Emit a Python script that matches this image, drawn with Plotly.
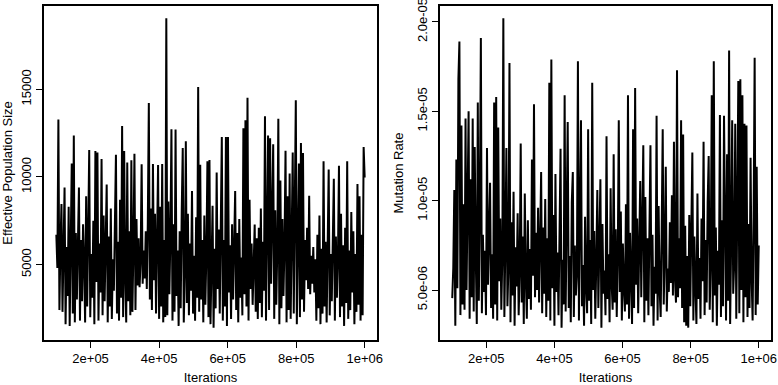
import plotly.graph_objects as go

# MCMC sample grid (thinned iterations)
iterations = list(range(100000, 1000001, 3000))

# Effective population size trace
effective_pop_size = [
    6700, 4800, 13280, 2400, 6100, 8460, 2300, 7400, 9400, 1600,
    6000, 3200, 8300, 1500, 7400, 10770, 2200, 12360, 1700, 6800,
    3000, 7200, 9400, 1800, 6400, 2900, 7300, 5200, 1700, 8900,
    2600, 6900, 11540, 2000, 5600, 3100, 7500, 1600, 11480, 4000,
    11400, 1800, 6200, 3400, 11020, 2100, 7800, 2900, 5400, 9570,
    1700, 6600, 2600, 8200, 1900, 5300, 3500, 7100, 11270, 2200,
    6300, 1800, 8700, 3100, 12900, 2000, 11480, 4300, 1700, 10830,
    2900, 6900, 2100, 10950, 2300, 5900, 11330, 2400, 7600, 3800,
    6500, 3700, 5200, 10720, 3900, 5800, 4200, 6900, 3600, 7400,
    14220, 3000, 8200, 2400, 10740, 4100, 7900, 2200, 8600, 10680,
    1900, 8300, 2600, 10740, 1700, 6400, 2000, 19050, 2100, 8600,
    3300, 6700, 12720, 1800, 7300, 2300, 12700, 3200, 5800, 1500,
    6900, 2500, 8100, 11650, 1700, 4600, 12040, 2800, 7900, 2100,
    6200, 3500, 9200, 2200, 5500, 1800, 7700, 3100, 15130, 2300,
    10700, 3000, 6400, 1700, 7800, 2700, 5600, 10890, 2000, 10970,
    1600, 6800, 8350, 1400, 5900, 2500, 10260, 3600, 7000, 2200,
    8800, 12280, 1800, 6400, 2600, 12280, 1500, 12280, 3400, 6100,
    1900, 7300, 3000, 5600, 9200, 2400, 6800, 1700, 7600, 3100,
    5400, 2100, 12780, 3300, 13240, 2600, 14520, 1800, 8700, 3600,
    6200, 2700, 5800, 7280, 2300, 6500, 1900, 7100, 2800, 8200,
    2000, 6300, 3500, 13470, 1800, 7400, 12360, 2400, 12210, 3900,
    6900, 11860, 1900, 8100, 2700, 5900, 13320, 1600, 9800, 2500,
    7600, 3200, 6100, 11500, 1700, 8900, 2400, 10200, 1900, 6800,
    11400, 2200, 7200, 14370, 1600, 6500, 10770, 2000, 11940, 3000,
    11370, 2300, 6400, 4100, 7100, 3600, 8920, 3300, 5500, 3900,
    6000, 3400, 5300, 1800, 6700, 2500, 7800, 1600, 5900, 2200,
    10890, 2600, 6300, 1700, 8100, 10430, 2100, 5600, 2900, 7400,
    9900, 1800, 6600, 3100, 5400, 10640, 2000, 7900, 2600, 6100,
    1500, 7100, 2800, 10890, 1900, 5800, 2400, 8000, 3400, 6900,
    1600, 5600, 2300, 9590, 2700, 8900, 1800, 6700, 2100, 11710,
    9970,
]

# Mutation rate trace, in units of 1e-6
mutation_rate_e6 = [
    4.55, 6.25, 10.6, 3.0, 12.3, 5.1, 16.8, 18.9, 3.6, 14.2,
    4.2, 9.8, 3.9, 14.6, 5.0, 8.7, 15.0, 3.4, 11.2, 4.6,
    14.6, 3.8, 13.0, 6.9, 3.1, 15.5, 4.4, 9.5, 19.1, 3.7,
    8.1, 4.9, 7.2, 3.6, 12.95, 5.3, 8.4, 11.0, 4.0, 7.0,
    3.4, 15.5, 4.2, 15.8, 3.3, 14.1, 5.5, 9.0, 3.9, 6.8,
    20.2, 3.5, 7.6, 12.95, 4.1, 6.3, 17.7, 3.2, 8.8, 4.7,
    10.5, 3.0, 7.4, 5.2, 9.3, 3.6, 6.1, 13.2, 4.3, 8.0,
    3.1, 10.4, 5.6, 3.4, 8.9, 4.5, 7.3, 3.9, 12.3, 5.8,
    15.4, 4.6, 8.2, 5.0, 9.6, 4.3, 7.7, 11.6, 3.7, 8.5,
    4.8, 10.1, 3.5, 7.9, 4.4, 16.6, 3.3, 17.9, 5.1, 9.2,
    3.0, 11.5, 4.9, 7.1, 3.6, 8.6, 12.9, 2.9, 6.7, 4.2,
    15.9, 3.8, 8.3, 14.4, 4.0, 6.9, 3.2, 9.9, 11.6, 3.5,
    7.5, 4.7, 5.9, 17.8, 3.3, 8.0, 14.5, 4.1, 6.4, 3.0,
    9.1, 5.2, 3.7, 14.0, 4.4, 7.8, 3.1, 16.6, 5.0, 8.3,
    3.4, 6.6, 10.6, 4.0, 7.2, 11.2, 2.9, 8.7, 4.8, 6.1,
    3.6, 13.6, 4.5, 7.0, 3.2, 10.7, 5.4, 3.9, 12.6, 4.3,
    8.4, 3.5, 6.8, 14.5, 4.9, 9.4, 3.3, 7.6, 5.1, 3.8,
    9.8, 4.2, 15.9, 3.4, 8.2, 5.6, 3.1, 14.0, 4.0, 16.3,
    5.3, 9.0, 3.7, 7.4, 11.1, 4.6, 8.8, 13.1, 3.2, 10.2,
    4.4, 7.9, 3.6, 9.5, 13.1, 4.1, 8.1, 3.0, 6.3, 4.8,
    14.75, 3.3, 9.7, 5.0, 3.5, 8.4, 14.0, 4.2, 7.0, 11.9,
    3.8, 6.2, 4.9, 8.8, 5.4, 10.3, 4.7, 13.3, 5.6, 4.3,
    17.3, 4.6, 7.9, 5.1, 14.5, 4.0, 13.7, 3.2, 8.6, 3.0,
    6.9, 2.9, 9.2, 4.1, 7.5, 12.7, 3.3, 8.0, 5.2, 3.1,
    10.4, 4.5, 6.8, 3.4, 9.0, 5.5, 13.3, 3.6, 7.8, 4.3,
    9.9, 12.5, 3.9, 6.6, 15.9, 3.2, 17.8, 4.7, 8.5, 3.0,
    7.2, 5.3, 14.8, 3.5, 8.9, 4.1, 14.75, 5.8, 3.3, 12.6,
    4.4, 18.4, 3.1, 7.7, 14.5, 4.8, 6.5, 14.3, 3.4, 9.6,
    16.7, 3.7, 16.8, 5.0, 15.9, 3.2, 14.3, 4.6, 14.2, 3.5,
    8.7, 4.0, 12.4, 5.7, 3.3, 9.1, 18.0, 3.6, 11.9, 4.2,
    7.5,
]
mutation_rate = [v * 1e-6 for v in mutation_rate_e6]

x_tick_vals = [200000, 400000, 600000, 800000, 1000000]
x_tick_text = ["2e+05", "4e+05", "6e+05", "8e+05", "1e+06"]
ne_tick_vals = [5000, 10000, 15000]
ne_tick_text = ["5000", "10000", "15000"]
mu_tick_vals = [5e-6, 1e-5, 1.5e-5, 2e-5]
mu_tick_text = ["5.0e-06", "1.0e-05", "1.5e-05", "2.0e-05"]


def r_range(vals, frac=0.04):
    lo, hi = min(vals), max(vals)
    d = (hi - lo) * frac
    return [lo - d, hi + d]


FONT = "Liberation Sans, Arial, Helvetica, sans-serif"
LINE = dict(color="black", width=2)

fig = go.Figure()
fig.add_trace(go.Scatter(x=iterations, y=effective_pop_size, mode="lines",
                         line=LINE, xaxis="x", yaxis="y", showlegend=False))
fig.add_trace(go.Scatter(x=iterations, y=mutation_rate, mode="lines",
                         line=LINE, xaxis="x2", yaxis="y2", showlegend=False))

ydom = [45 / 385, 379 / 385]
axis_common = dict(showline=True, linecolor="black", linewidth=1.5, mirror=True,
                   showgrid=False, zeroline=False, ticks="outside", ticklen=6,
                   tickwidth=1, tickcolor="black", automargin=False,
                   ticklabeloverflow="allow",
                   tickfont=dict(family=FONT, size=13, color="black"))

fig.update_layout(
    width=778, height=385,
    margin=dict(l=0, r=0, t=0, b=0),
    paper_bgcolor="white", plot_bgcolor="white",
    font=dict(family=FONT, size=13, color="black"),
    xaxis=dict(domain=[44 / 778, 377 / 778], range=r_range(iterations),
               tickvals=x_tick_vals, ticktext=x_tick_text, anchor="y",
               title=dict(text="Iterations", standoff=12,
                          font=dict(family=FONT, size=13)), **axis_common),
    yaxis=dict(domain=ydom, range=r_range(effective_pop_size),
               tickvals=ne_tick_vals, ticktext=ne_tick_text, tickangle=-90, anchor="x",
               title=dict(text="Effective Population Size", standoff=8,
                          font=dict(family=FONT, size=13)), **axis_common),
    xaxis2=dict(domain=[440 / 778, 771 / 778], range=r_range(iterations),
                tickvals=x_tick_vals, ticktext=x_tick_text, anchor="y2",
                title=dict(text="Iterations", standoff=12,
                           font=dict(family=FONT, size=13)), **axis_common),
    yaxis2=dict(domain=ydom, range=r_range(mutation_rate),
                tickvals=mu_tick_vals, ticktext=mu_tick_text, tickangle=-90, anchor="x2",
                title=dict(text="Mutation Rate", standoff=8,
                           font=dict(family=FONT, size=13)), **axis_common),
)

fig.write_html("out.html", config={"displayModeBar": False},
               post_script="document.body.style.margin='0';document.body.style.overflow='hidden';")
